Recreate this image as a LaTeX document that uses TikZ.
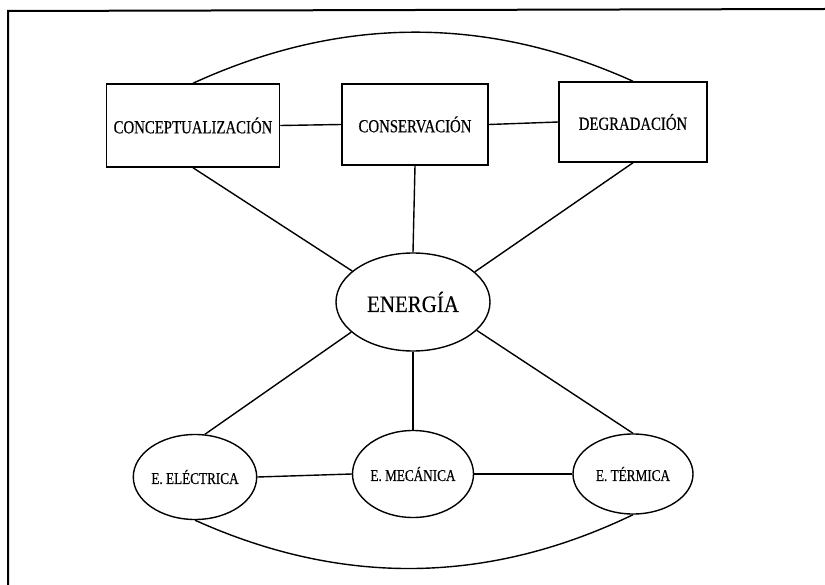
\documentclass[tikz,border=0pt]{standalone}
\usepackage{fontspec}
\usetikzlibrary{shapes.geometric}
\newfontfamily\labfont{Liberation Serif}[FakeStretch=0.80,FakeBold=0.4]
\newfontfamily\kindfont{Liberation Serif}[FakeStretch=0.80,FakeBold=0.4]
\newfontfamily\bigfont{Liberation Serif}[FakeStretch=0.89,FakeBold=0.4]
\begin{document}
\begin{tikzpicture}[x=1bp,y=-1bp,
  link/.style={draw,line width=1.4bp},
  concept/.style={draw,line width=1.5bp,rectangle,inner sep=0pt,
    font=\labfont\fontsize{18.5bp}{20bp}\selectfont},
  kind/.style={draw,line width=1.4bp,ellipse,inner sep=0pt,
    font=\kindfont\fontsize{16.5bp}{18bp}\selectfont},
  core/.style={draw,line width=1.4bp,ellipse,inner sep=0pt,
    font=\bigfont\fontsize{23.5bp}{25bp}\selectfont}]
\useasboundingbox (0,0) rectangle (825,585);
% frame
\draw[line width=2bp] (8,585) -- (8,11) -- (825,9);

% upper row of concepts
\node[concept,minimum width=173bp,minimum height=83bp] (c1) at (193,125.5) {CONCEPTUALIZACIÓN};
\node[concept,minimum width=146bp,minimum height=81bp] (c2) at (415,124.5) {CONSERVACIÓN};
\node[concept,minimum width=148bp,minimum height=80bp] (c3) at (633,122) {DEGRADACIÓN};

% central node
\node[core,minimum width=154bp,minimum height=98bp] (en) at (413,302) {ENERGÍA};

% forms of energy
\node[kind,minimum width=120bp,minimum height=85bp] (el) at (195,477) {E. ELÉCTRICA};
\node[kind,minimum width=121bp,minimum height=87bp] (me) at (413,474) {E. MECÁNICA};
\node[kind,minimum width=120bp,minimum height=80bp] (te) at (633,474) {E. TÉRMICA};

% links between concepts
\draw[link] (c1.east) -- (c2.west);
\draw[link] (c2.east) -- (c3.west);
\draw[link] (c1.north) .. controls (340,16) and (486,15) .. (c3.north);

\draw[link] (c1.south) -- (en.153);
\draw[link] (c2.south) -- (en.north);
\draw[link] (c3.south) -- (en.26);

\draw[link] (en.206) -- (el.77);
\draw[link] (en.south) -- (me.north);
\draw[link] (en.336) -- (te.north);

\draw[link] (el.east) -- (me.west);
\draw[link] (me.east) -- (te.west);
\draw[link] (el.south) .. controls (341,586) and (487,585) .. (te.south);
\end{tikzpicture}
\end{document}
